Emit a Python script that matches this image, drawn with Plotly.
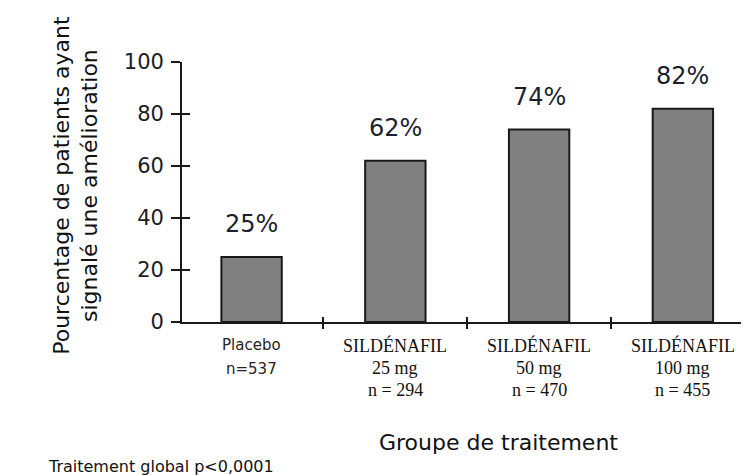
import plotly.graph_objects as go

# ---- data ----
categories = ["Placebo", "SILDÉNAFIL 25 mg", "SILDÉNAFIL 50 mg", "SILDÉNAFIL 100 mg"]
values = [25, 62, 74, 82]
value_labels = ["25%", "62%", "74%", "82%"]
label_line1 = ["Placebo", "SILDÉNAFIL", "SILDÉNAFIL", "SILDÉNAFIL"]
label_line2 = ["n=537", "25 mg", "50 mg", "100 mg"]
label_line3 = ["", "n = 294", "n = 470", "n = 455"]
y_ticks = [0, 20, 40, 60, 80, 100]
x_positions = list(range(len(categories)))
boundaries = [i + 0.5 for i in x_positions[:-1]]

y_title = "Pourcentage de patients ayant<br>signalé une amélioration"
x_title = "Groupe de traitement"
footnote = "Traitement global p<0,0001"

# the page body has an 8px margin, so the figure is sized/offset to compensate
OFF = 8
W, H = 749 - OFF, 475 - OFF
ML, MR, MT, MB = 182 - OFF, 0, 62 - OFF, 153
PW, PH = W - ML - MR, H - MT - MB


def px(xp):
    return (xp - OFF - ML) / PW


def py(yp):
    return (H - MB - (yp - OFF)) / PH


SANS = "DejaVu Sans"
SERIF = "Liberation Serif"
AXIS_COL = "#1a1a1a"
XR = [-0.484, 3.46]
YR = [0, 100]

fig = go.Figure()
fig.add_trace(go.Bar(
    x=x_positions, y=values, width=0.42,
    marker=dict(color="#808080", line=dict(color="#1a1a1a", width=2)),
    hovertext=categories, showlegend=False,
))
# helper empty trace to activate overlay axes (inside tick halves)
fig.add_trace(go.Scatter(x=[], y=[], xaxis="x2", yaxis="y2", showlegend=False, hoverinfo="skip"))

fig.update_layout(
    width=W, height=H,
    margin=dict(l=ML, r=MR, t=MT, b=MB, pad=0),
    plot_bgcolor="white", paper_bgcolor="white",
    xaxis=dict(range=XR, showgrid=False, zeroline=False, showline=True,
               linecolor=AXIS_COL, linewidth=1.7, tickmode="array", tickvals=boundaries,
               ticks="outside", ticklen=5, tickwidth=1.7, tickcolor=AXIS_COL,
               showticklabels=False),
    yaxis=dict(range=YR, showgrid=False, zeroline=False, showline=True,
               linecolor=AXIS_COL, linewidth=1.7, tickmode="array", tickvals=y_ticks,
               ticks="outside", ticklen=9, tickwidth=1.7, tickcolor=AXIS_COL,
               ticklabelstandoff=3,
               tickfont=dict(family=SANS, size=21, color="#1c1c24")),
    xaxis2=dict(range=XR, overlaying="x", anchor="y2", showgrid=False, zeroline=False,
                showline=False, tickmode="array", tickvals=boundaries, ticks="inside",
                ticklen=5, tickwidth=1.7, tickcolor=AXIS_COL, showticklabels=False),
    yaxis2=dict(range=YR, overlaying="y", anchor="x2", showgrid=False, zeroline=False,
                showline=False, tickmode="array", tickvals=y_ticks, ticks="inside",
                ticklen=8, tickwidth=1.7, tickcolor=AXIS_COL, showticklabels=False),
)

ann = []
for xi, v, lab in zip(x_positions, values, value_labels):
    ann.append(dict(x=xi, y=v, xref="x", yref="y", text=lab, showarrow=False,
                    yanchor="middle", yshift=33,
                    font=dict(family=SANS, size=24, color="#1c1f30")))

for xi, l1, l2, l3 in zip(x_positions, label_line1, label_line2, label_line3):
    if l3 == "":
        f = dict(family=SANS, size=15, color="#2a2222")
        ys = [345, 369]
        lines = [l1, l2]
    else:
        f = dict(family=SERIF, size=18, color="#111111")
        ys = [345, 367.5, 390]
        lines = [l1, l2, l3]
    for yy, t in zip(ys, lines):
        ann.append(dict(x=xi, y=py(yy), xref="x", yref="paper", text=t, showarrow=False,
                        xanchor="center", yanchor="middle", font=f))

ann.append(dict(x=px(75.8), y=py(185), xref="paper", yref="paper", text=y_title,
                textangle=-90, showarrow=False, xanchor="center", yanchor="middle",
                font=dict(family=SANS, size=22, color="#111111")))
ann.append(dict(x=px(498.5), y=py(442), xref="paper", yref="paper", text=x_title,
                showarrow=False, xanchor="center", yanchor="middle",
                font=dict(family=SANS, size=22, color="#111111")))
ann.append(dict(x=px(46), y=py(466), xref="paper", yref="paper", text=footnote,
                showarrow=False, xanchor="left", yanchor="middle",
                font=dict(family=SANS, size=16, color="#111111")))

fig.update_layout(annotations=ann)
fig.write_html("out.html")
